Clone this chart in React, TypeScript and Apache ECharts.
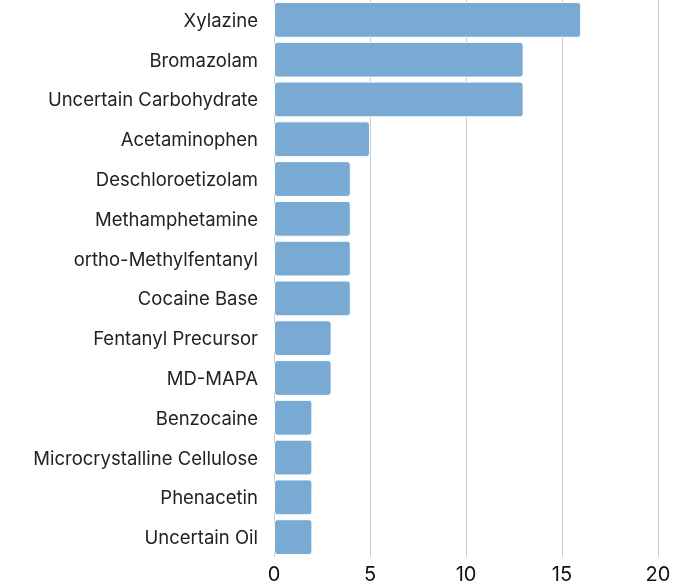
import React, { useEffect, useRef } from "react";
import * as echarts from "echarts";

const categories = [
  "Xylazine",
  "Bromazolam",
  "Uncertain Carbohydrate",
  "Acetaminophen",
  "Deschloroetizolam",
  "Methamphetamine",
  "ortho-Methylfentanyl",
  "Cocaine Base",
  "Fentanyl Precursor",
  "MD-MAPA",
  "Benzocaine",
  "Microcrystalline Cellulose",
  "Phenacetin",
  "Uncertain Oil",
];
const values = [16, 13, 13, 5, 4, 4, 4, 4, 3, 3, 2, 2, 2, 2];

export default function App() {
  const ref = useRef<HTMLDivElement>(null);
  useEffect(() => {
    if (!ref.current) return;
    const chart = echarts.init(ref.current, null, { renderer: "svg" });
    chart.setOption({
      animation: false,
      grid: { left: 274, right: 30, top: 0, bottom: 28 },
      xAxis: {
        type: "value",
        min: 0,
        max: 20,
        interval: 5,
        axisLine: { show: false },
        axisTick: { show: false },
        splitLine: { lineStyle: { color: "#cccccc", width: 1 } },
        axisLabel: {
          color: "#111",
          fontSize: 20,
          fontFamily: "Inter",
          margin: 7,
          lineHeight: 20,
        },
      },
      yAxis: {
        type: "category",
        data: categories,
        inverse: true,
        axisLine: { show: false },
        axisTick: { show: false },
        axisLabel: {
          color: "#222",
          fontSize: 18.5,
          fontFamily: "Inter",
          margin: 16,
        },
      },
      series: [
        {
          type: "bar",
          data: values,
          barCategoryGap: "10%",
          itemStyle: {
            color: "#78aad3",
            borderColor: "#ffffff",
            borderWidth: 1,
            borderRadius: 3,
          },
        },
      ],
    });
    return () => chart.dispose();
  }, []);
  return (
    <div
      ref={ref}
      style={{ position: "fixed", left: 0, top: 0, width: 688, height: 585 }}
    />
  );
}
